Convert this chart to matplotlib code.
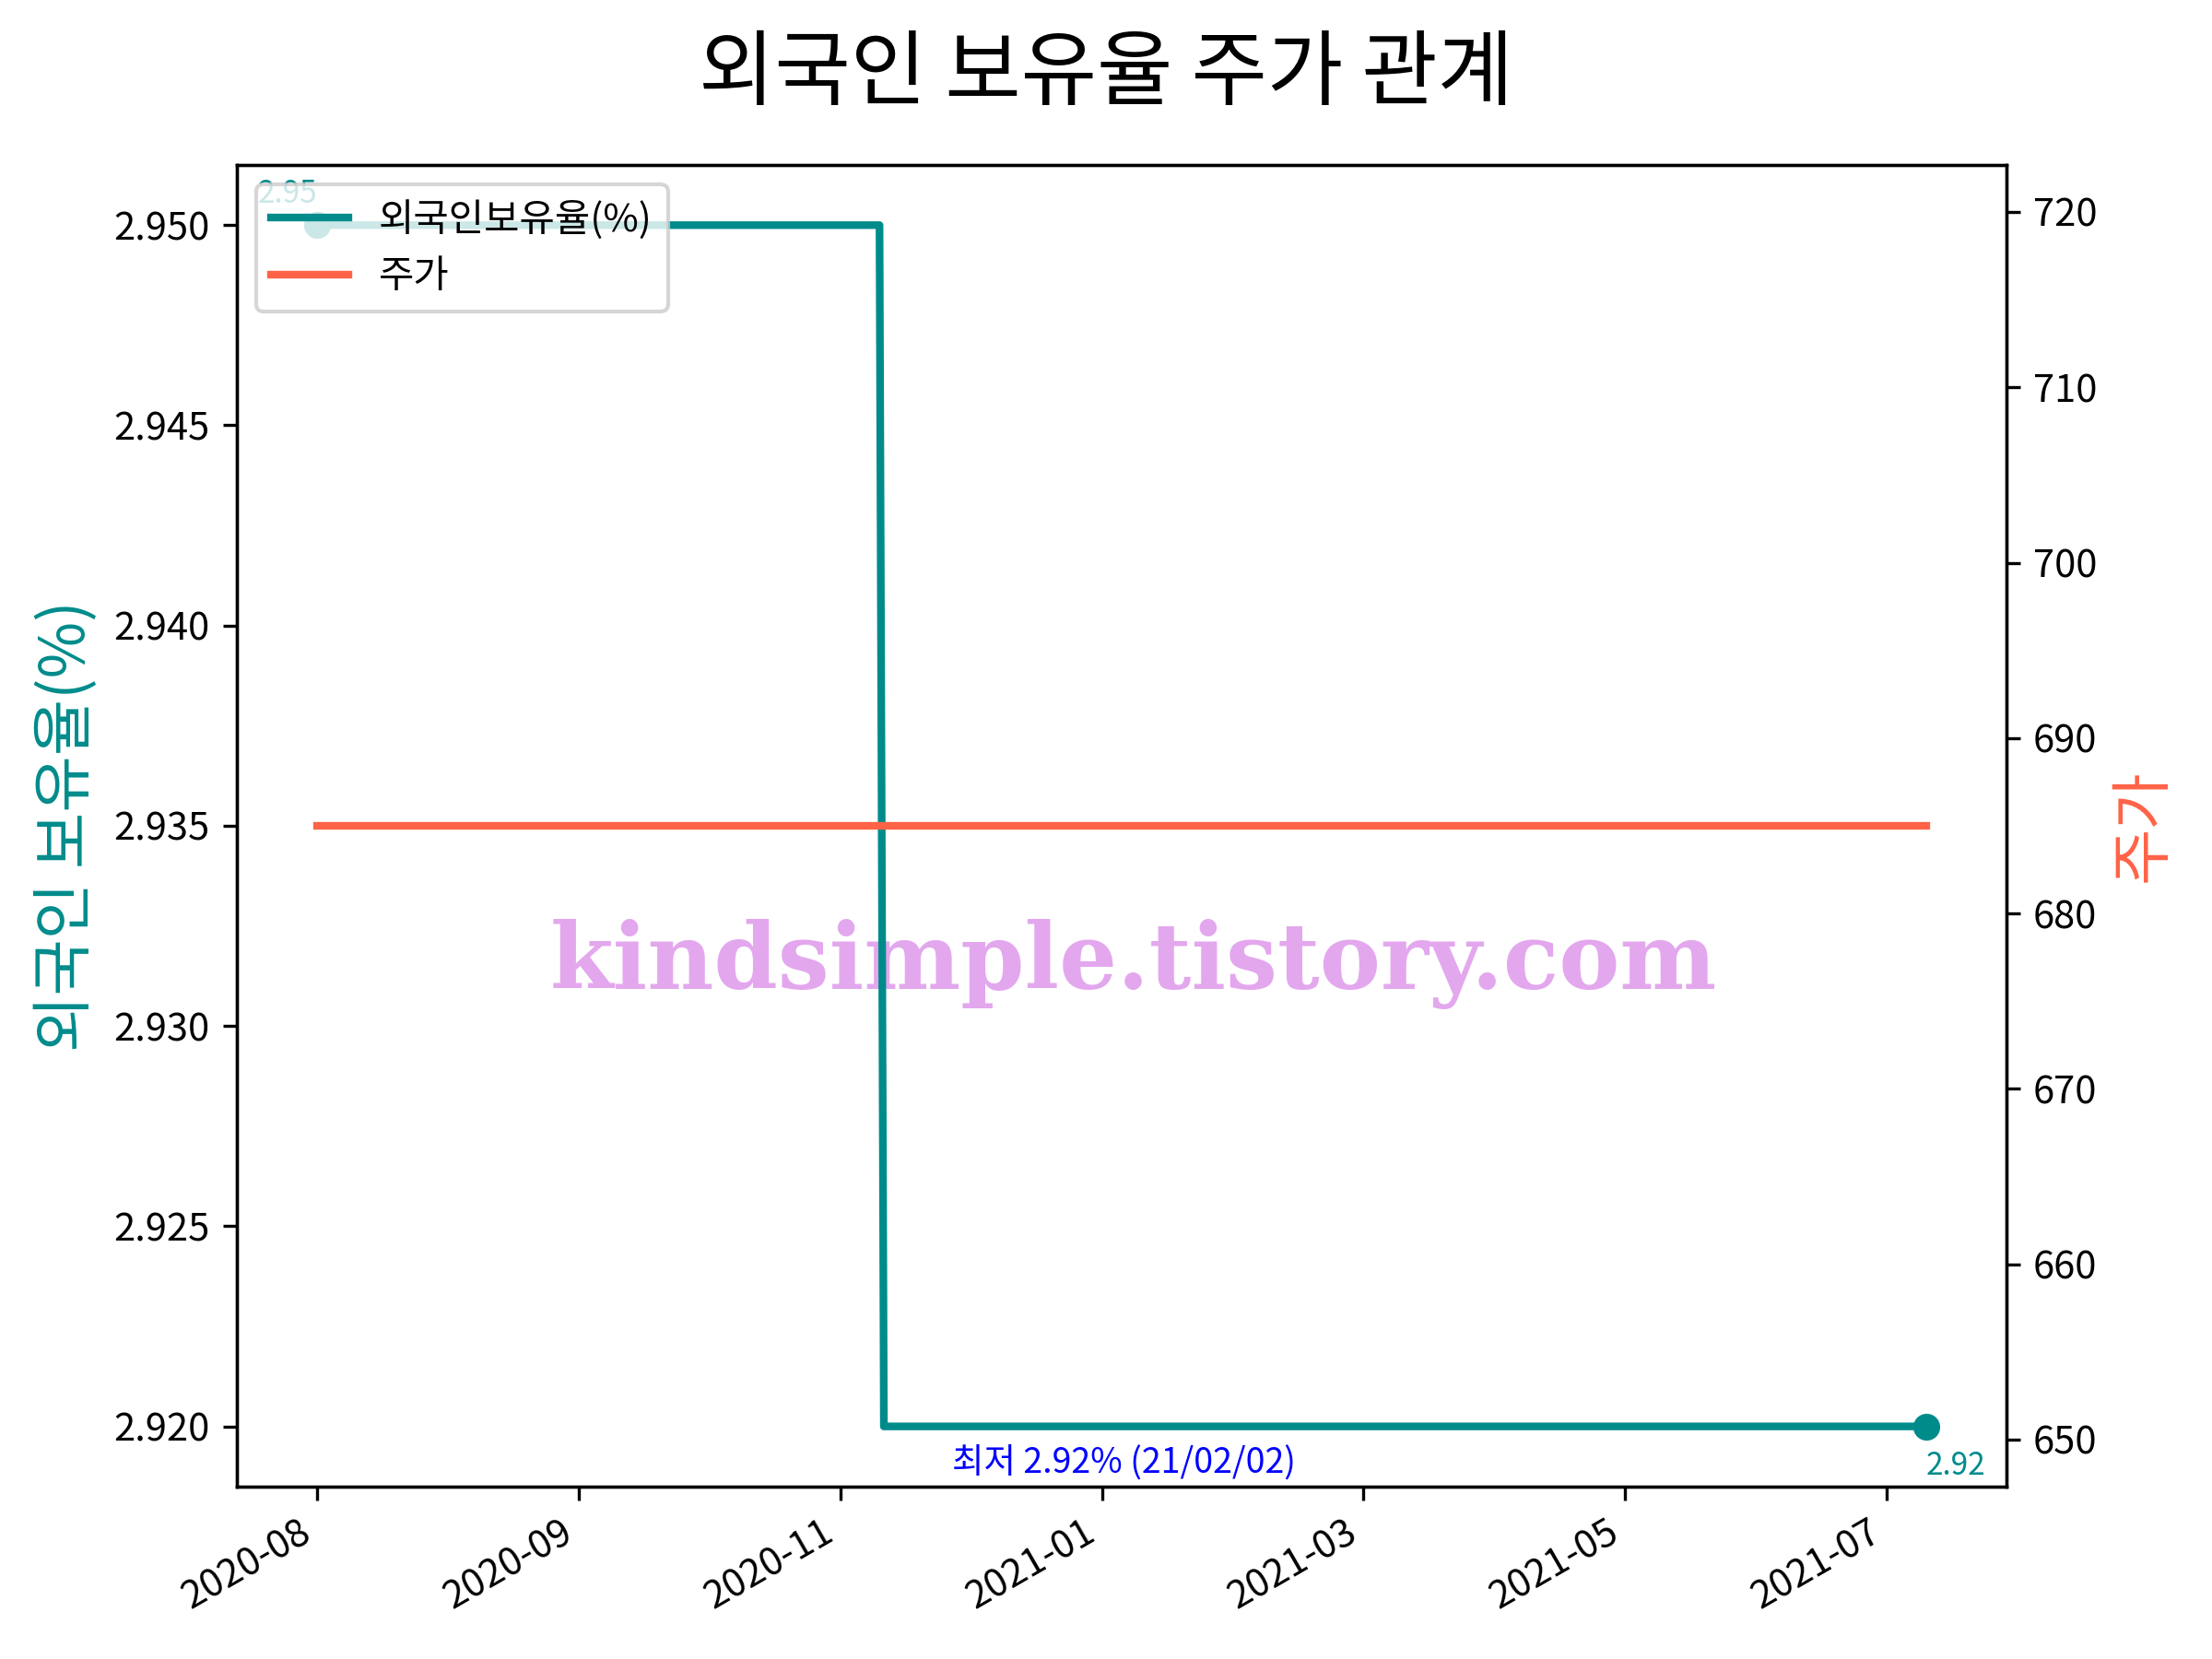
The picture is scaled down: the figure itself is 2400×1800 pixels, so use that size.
import matplotlib
matplotlib.use("Agg")
import matplotlib.pyplot as plt
import matplotlib.dates as mdates
import pandas as pd

plt.rcParams['font.family'] = ['Noto Sans CJK KR', 'DejaVu Sans']
plt.rcParams['axes.unicode_minus'] = False

# ---- data ----
dates = pd.to_datetime(["2020-08-01", "2020-12-08", "2020-12-09", "2021-02-02", "2021-08-05"])
ratio = [2.95, 2.95, 2.92, 2.92, 2.92]          # 외국인보유율(%)
price = [685, 685, 685, 685, 685]               # 주가
tick_dates = pd.to_datetime(["2020-08-01", "2020-09-30", "2020-11-29", "2021-01-28",
                             "2021-03-29", "2021-05-28", "2021-07-27"])
min_date = pd.Timestamp("2021-02-02")
min_value = 2.92

title = "외국인 보유율 주가 관계"
ratio_label = "외국인보유율(%)"
price_label = "주가"
watermark = "kindsimple.tistory.com"

teal = "darkcyan"
red = "tomato"

fig = plt.figure(figsize=(8, 6), dpi=300)
ax1 = fig.add_subplot(111)
ax2 = ax1.twinx()
fig.subplots_adjust(left=0.107, right=0.907, bottom=0.104, top=0.9005)

l1, = ax1.plot(dates, ratio, color=teal, lw=2, label=ratio_label)
ax1.plot([dates[0], dates[-1]], [ratio[0], ratio[-1]], 'o', color=teal, ms=6)
l2, = ax2.plot(dates, price, color=red, lw=2, label=price_label)

ax1.annotate(f"{ratio[0]:.2f}", (dates[0], ratio[0]), xytext=(0, 4), textcoords='offset points',
             ha='right', va='bottom', fontsize=8, color=teal)
ax1.annotate(f"{ratio[-1]:.2f}", (dates[-1], ratio[-1]), xytext=(0, -6), textcoords='offset points',
             ha='left', va='top', fontsize=8, color=teal)
ax1.annotate(f"최저 {min_value:.2f}% ({min_date:%y/%m/%d})", (min_date, min_value), xytext=(0, -5),
             textcoords='offset points', ha='center', va='top', fontsize=9, color='blue')

ax1.text(0.507, 0.395, watermark, transform=ax1.transAxes, ha='center', va='center',
         fontsize=23.8, fontweight='bold', family='DejaVu Serif', color='#E3A7EE', zorder=0)

ax1.set_xticks(tick_dates)
ax1.xaxis.set_major_formatter(mdates.DateFormatter('%Y-%m'))
for lab in ax1.get_xticklabels():
    lab.set_rotation(30)
    lab.set_ha('right')

ax1.set_ylabel("외국인 보유율(%)", color=teal, fontsize=16)
ax2.set_ylabel("주가", color=red, fontsize=16)

ax2.legend([l1, l2], [ratio_label, price_label], loc='upper left')
fig.suptitle(title, fontsize=21.5)

fig.savefig("out.png", dpi=300)
